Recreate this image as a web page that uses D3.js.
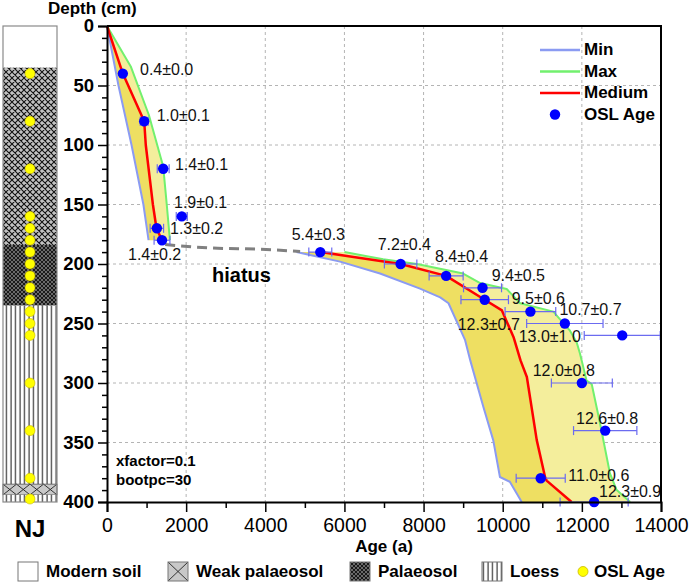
<!DOCTYPE html>
<html><head><meta charset="utf-8">
<script src="https://cdn.jsdelivr.net/npm/d3@7"></script>
<style>
body{margin:0;background:#fff;}
svg{display:block;font-family:"Liberation Sans",Arial,sans-serif;}
</style></head>
<body>
<svg id="chart" width="692" height="584"></svg>
<script>
// ---------- DATA ----------
const oslAges   = [400, 940, 1420, 1890, 1260, 1390, 5390, 7420, 8570, 9490, 9545, 10700, 11570, 13020, 12000, 12590, 10960, 12310];
const oslDepths = [40, 80, 120, 160, 170, 180, 190, 200, 210, 220, 230, 240, 250, 260, 300, 340, 380, 400];
const oslErrors = [0, 100, 150, 140, 170, 200, 290, 410, 430, 480, 600, 640, 965, 960, 770, 800, 620, 860];
const labelTexts = ["0.4±0.0","1.0±0.1","1.4±0.1","1.9±0.1","1.3±0.2","1.4±0.2","5.4±0.3","7.2±0.4","8.4±0.4","9.4±0.5","9.5±0.6","10.7±0.7","12.3±0.7","13.0±1.0","12.0±0.8","12.6±0.8","11.0±0.6","12.3±0.9"];
const labelAnchors = [[834,41.4],[1256,79.8],[1718,121],[1693,152.6],[1592,174.5],[531,197],[4668,180],[6841,188.5],[8289,198.3],[9722,214.3],[10227,233.3],[11432,243.1],[8862,255.7],[10404,265.5],[10757,294.4],[11852,334.1],[11658,382.6],[12434,395.8]];

// age-depth model curves [age, depth]
const minUpper = [[0,0],[290,50],[620,100],[920,150],[1050,180]];
const medUpper = [[0,0],[400,40],[940,80],[980,100],[1160,150],[1250,170],[1390,180]];
const maxUpper = [[0,0],[600,34],[1060,75],[1420,118],[1510,150],[1590,180]];
const hiatusLine = [[1470,183.7],[2600,186.5],[3870,187.6],[4880,189.5]];
const minLower = [[4790,190],[5890,198],[6900,208],[7910,220.7],[8420,228],[8630,233],[9050,264],[9180,281],[9510,320],[9760,348],[9930,379],[10180,383],[10480,400]];
const medLower = [[5400,190],[7420,200],[8570,210],[9545,230],[9980,239],[10280,262],[10450,281],[10610,295],[10860,348],[11070,379],[11110,382],[11740,400]];
const maxLower = [[6000,190],[6980,196],[7830,200],[9000,208],[9430,216],[10100,221],[10440,233],[11280,240],[11410,245],[11700,256],[11870,266],[11950,275],[12120,298],[12250,301],[12460,334],[12710,376],[12880,390],[13220,400]];

// stratigraphy
const strataTop    = [0, 35, 184, 235, 385, 394];
const strataBottom = [35, 184, 235, 385, 394, 400];
const strataType   = ["modern","weak","palaeo","loess","weakX","loess"];

const xTicks = [0,2000,4000,6000,8000,10000,12000,14000];
const yTicks = [0,50,100,150,200,250,300,350,400];
const legendNames = ["Min","Max","Medium","OSL Age"];
const strataLegend = ["Modern soil","Weak palaeosol","Palaeosol","Loess","OSL Age"];

// ---------- STYLE ----------
const C = {min:"#8b9bf2", max:"#72f06e", med:"#ff0000", fillDark:"#eedf62", fillLight:"#f4ee9c",
  pt:"#0000ff", err:"#6b6bf0", grid:"#b4b4b4"};
const FONT = '"Liberation Sans",Arial,sans-serif';

const svg = d3.select("#chart");
const x = d3.scaleLinear().domain([0,14000]).range([107,661]);
const y = d3.scaleLinear().domain([0,400]).range([26,502]);

// ---------- PATTERNS ----------
const defs = svg.append("defs");
function pat(id,w,h,bg,draw){
  const p = defs.append("pattern").attr("id",id).attr("patternUnits","userSpaceOnUse").attr("width",w).attr("height",h);
  p.append("rect").attr("width",w).attr("height",h).attr("fill",bg);
  draw(p);
}
pat("pWeak",6,6,"#c2c2c2",p=>{
  p.append("path").attr("d","M0,0L6,6M6,0L0,6M-1,5L1,7M5,-1L7,1M-1,1L1,-1M5,7L7,5").attr("stroke","#111").attr("stroke-width",1.1);
});
pat("pPalaeo",4,4,"#6a6a6a",p=>{
  p.append("path").attr("d","M0,0L4,4M4,0L0,4").attr("stroke","#111").attr("stroke-width",0.9);
});
pat("pLoess",4.5,10,"#ffffff",p=>{
  p.append("line").attr("x1",2).attr("x2",2).attr("y1",0).attr("y2",10).attr("stroke","#111").attr("stroke-width",1);
});

// ---------- COLUMN ----------
const colX0 = 3, colX1 = 57;
const colG = svg.append("g");
strataType.forEach((t,i)=>{
  const y0 = y(strataTop[i]), y1 = y(strataBottom[i]);
  if(t==="weakX"){
    colG.append("rect").attr("x",colX0).attr("y",y0).attr("width",colX1-colX0).attr("height",y1-y0).attr("fill","#c8c8c8");
    const n=4, w=(colX1-colX0)/n;
    for(let k=0;k<n;k++){
      colG.append("path").attr("d",`M${colX0+k*w},${y0}L${colX0+(k+1)*w},${y1}M${colX0+(k+1)*w},${y0}L${colX0+k*w},${y1}`)
        .attr("stroke","#222").attr("stroke-width",0.9);
    }
    colG.append("rect").attr("x",colX0).attr("y",y0).attr("width",colX1-colX0).attr("height",y1-y0).attr("fill","none").attr("stroke","#555").attr("stroke-width",0.8);
  } else {
    const fill = t==="modern"?"#ffffff":t==="weak"?"url(#pWeak)":t==="palaeo"?"url(#pPalaeo)":"url(#pLoess)";
    colG.append("rect").attr("x",colX0).attr("y",y0).attr("width",colX1-colX0).attr("height",y1-y0).attr("fill",fill);
  }
});
colG.append("rect").attr("x",colX0).attr("y",y(0)).attr("width",colX1-colX0).attr("height",y(400)-y(0))
  .attr("fill","none").attr("stroke","#8a8a8a").attr("stroke-width",1.2);
colG.selectAll("circle.cd").data(oslDepths).enter().append("circle")
  .attr("cx",(colX0+colX1)/2).attr("cy",d=>Math.min(y(d),y(397.5))).attr("r",5)
  .attr("fill","#ffff00").attr("stroke","#c9b800").attr("stroke-width",0.6);
svg.append("text").attr("x",(colX0+colX1)/2).attr("y",537).attr("text-anchor","middle")
  .attr("font-size",24).attr("font-weight","bold").attr("font-family",FONT).text("NJ");

// ---------- GRID ----------
const gridG = svg.append("g").attr("stroke",C.grid).attr("stroke-width",1).attr("stroke-dasharray","3,3");
xTicks.filter(v=>v>0&&v<14000).forEach(v=>gridG.append("line").attr("x1",x(v)).attr("x2",x(v)).attr("y1",y(0)).attr("y2",y(400)));
yTicks.filter(v=>v>0&&v<400).forEach(v=>gridG.append("line").attr("x1",x(0)).attr("x2",x(14000)).attr("y1",y(v)).attr("y2",y(v)));

// ---------- FILLS ----------
const line = d3.line().x(d=>x(d[0])).y(d=>y(d[1]));
function poly(a,b){ return line(a.concat(b.slice().reverse())) + "Z"; }
const fillG = svg.append("g");
fillG.append("path").attr("d",poly(minUpper,medUpper)).attr("fill",C.fillDark);
fillG.append("path").attr("d",poly(medUpper,maxUpper)).attr("fill",C.fillLight);
fillG.append("path").attr("d",poly(minLower,medLower)).attr("fill",C.fillDark);
fillG.append("path").attr("d",poly(medLower,maxLower)).attr("fill",C.fillLight);

// ---------- LINES ----------
const lineG = svg.append("g").attr("fill","none").attr("stroke-linejoin","round");
[[minUpper,C.min,2],[minLower,C.min,2],[maxUpper,C.max,2],[maxLower,C.max,2],[medUpper,C.med,2.5],[medLower,C.med,2.5]]
  .forEach(([d,c,w])=>lineG.append("path").attr("d",line(d)).attr("stroke",c).attr("stroke-width",w));
lineG.append("path").attr("d",d3.line().x(d=>x(d[0])).y(d=>y(d[1])).curve(d3.curveMonotoneX)(hiatusLine))
  .attr("stroke","#808080").attr("stroke-width",3).attr("stroke-dasharray","10,6");
svg.append("text").attr("x",212).attr("y",282).attr("font-size",20).attr("font-weight","bold").attr("font-family",FONT).text("hiatus");

// ---------- ERROR BARS + POINTS ----------
const errG = svg.append("g").attr("stroke",C.err).attr("stroke-width",1.2);
oslAges.forEach((a,i)=>{
  const e = oslErrors[i]; if(e<=0) return;
  const yy = y(oslDepths[i]);
  const xa = x(a-e), xb = x(Math.min(a+e,14000));
  errG.append("line").attr("x1",xa).attr("x2",xb).attr("y1",yy).attr("y2",yy);
  errG.append("line").attr("x1",xa).attr("x2",xa).attr("y1",yy-4.5).attr("y2",yy+4.5);
  errG.append("line").attr("x1",xb).attr("x2",xb).attr("y1",yy-4.5).attr("y2",yy+4.5);
});
svg.append("g").selectAll("circle").data(oslAges).enter().append("circle")
  .attr("cx",d=>x(d)).attr("cy",(d,i)=>y(oslDepths[i])).attr("r",5.2).attr("fill",C.pt);

// ---------- LABELS ----------
svg.append("g").selectAll("text").data(labelTexts).enter().append("text")
  .attr("x",(d,i)=>x(labelAnchors[i][0])).attr("y",(d,i)=>y(labelAnchors[i][1]))
  .attr("font-size",16).attr("font-family",FONT).attr("fill","#111").text(d=>d);

svg.append("text").attr("x",116).attr("y",466).attr("font-size",15).attr("font-weight","bold").attr("font-family",FONT).text("xfactor=0.1");
svg.append("text").attr("x",116).attr("y",485).attr("font-size",15).attr("font-weight","bold").attr("font-family",FONT).text("bootpc=30");

// ---------- AXES ----------
const axL = svg.append("g").attr("transform",`translate(${x(0)},0)`)
  .call(d3.axisLeft(y).tickValues(yTicks).tickSize(9).tickPadding(4));
axL.selectAll("text").attr("font-size",18.5).attr("font-weight","bold").attr("font-family",FONT).attr("fill","#000");
svg.append("g").attr("transform",`translate(${x(0)},0)`)
  .call(d3.axisLeft(y).tickValues(d3.range(0,401,10).filter(v=>v%50)).tickSize(5).tickFormat(""))
  .call(g=>g.select(".domain").remove());
const axB = svg.append("g").attr("transform",`translate(0,${y(400)})`)
  .call(d3.axisBottom(x).tickValues(xTicks).tickSize(10).tickPadding(6).tickFormat(d3.format("d")));
axB.selectAll("text").attr("font-size",19.5).attr("font-family",FONT).attr("fill","#000");
svg.append("g").attr("transform",`translate(0,${y(400)})`)
  .call(d3.axisBottom(x).tickValues(d3.range(1000,14000,2000)).tickSize(6).tickFormat(""))
  .call(g=>g.select(".domain").remove());
svg.selectAll(".domain").attr("stroke-width",2).attr("stroke","#000");
svg.selectAll(".tick line").attr("stroke-width",1.5).attr("stroke","#000");
svg.append("path").attr("d",`M${x(0)},${y(0)}H${x(14000)}V${y(400)}`).attr("fill","none").attr("stroke","#000").attr("stroke-width",2);

svg.append("text").attr("x",48).attr("y",14).attr("font-size",17).attr("font-weight","bold").attr("font-family",FONT).text("Depth (cm)");
svg.append("text").attr("x",(x(0)+x(14000))/2).attr("y",552).attr("text-anchor","middle").attr("font-size",17).attr("font-weight","bold").attr("font-family",FONT).text("Age (a)");

// ---------- TOP-RIGHT LEGEND ----------
const lg = svg.append("g");
const lgColors = [C.min,C.max,C.med,C.pt];
legendNames.forEach((n,i)=>{
  const yy = 50 + i*21.5;
  if(i<3) lg.append("line").attr("x1",540).attr("x2",580).attr("y1",yy).attr("y2",yy).attr("stroke",lgColors[i]).attr("stroke-width",2.5);
  else lg.append("circle").attr("cx",555).attr("cy",yy).attr("r",5.2).attr("fill",C.pt);
  lg.append("text").attr("x",584).attr("y",yy+5).attr("font-size",17).attr("font-weight","bold").attr("font-family",FONT).text(n);
});

// ---------- BOTTOM LEGEND ----------
const bl = svg.append("g");
const boxX = [18,168,350,482,583];
strataLegend.forEach((n,i)=>{
  const bx = boxX[i], by = 562, bw = 20, bh = 19;
  if(i===4){
    bl.append("circle").attr("cx",bx).attr("cy",by+bh/2).attr("r",5).attr("fill","#ffff00").attr("stroke","#c9b800").attr("stroke-width",0.8);
    bl.append("text").attr("x",bx+11).attr("y",577).attr("font-size",17).attr("font-weight","bold").attr("font-family",FONT).text(n);
    return;
  }
  if(i===1){
    bl.append("rect").attr("x",bx).attr("y",by).attr("width",bw).attr("height",bh).attr("fill","#c8c8c8");
    bl.append("path").attr("d",`M${bx},${by}L${bx+bw},${by+bh}M${bx+bw},${by}L${bx},${by+bh}`).attr("stroke","#222").attr("stroke-width",0.9);
  } else {
    const fill = i===0?"#fff":i===2?"url(#pPalaeo)":"url(#pLoess)";
    bl.append("rect").attr("x",bx).attr("y",by).attr("width",bw).attr("height",bh).attr("fill",fill);
  }
  bl.append("rect").attr("x",bx).attr("y",by).attr("width",bw).attr("height",bh).attr("fill","none").attr("stroke","#777").attr("stroke-width",1);
  bl.append("text").attr("x",bx+28).attr("y",577).attr("font-size",17).attr("font-weight","bold").attr("font-family",FONT).text(n);
});
</script>
</body></html>
